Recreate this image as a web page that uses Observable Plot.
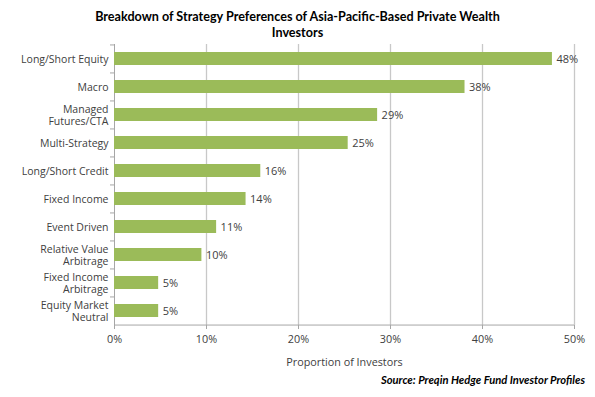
<!DOCTYPE html>
<html>
<head>
<meta charset="utf-8">
<script src="https://cdn.jsdelivr.net/npm/d3@7"></script>
<script src="https://cdn.jsdelivr.net/npm/@observablehq/plot@0.6"></script>
<style>
  body { margin: 0; background: #fff; }
  #wrap { position: relative; width: 595px; height: 397px; font-family: "Open Sans", sans-serif; }
  #title { position: absolute; left: 0; top: 9px; width: 595px; text-align: center; font-family: Lato, sans-serif; font-weight: bold; font-size: 12.6px; line-height: 16px; color: #000; }
  #source { position: absolute; right: 10px; top: 373px; font-family: Lato, sans-serif; font-weight: bold; font-style: italic; font-size: 11.2px; color: #000; }
  #chart { position: absolute; left: 0; top: 0; }
</style>
</head>
<body>
<div id="wrap">
  <div id="chart"></div>
  <div id="title">Breakdown of Strategy Preferences of Asia-Pacific-Based Private Wealth<br>Investors</div>
  <div id="source">Source: Preqin Hedge Fund Investor Profiles</div>
</div>
<script>
const categories = [
  "Long/Short Equity",
  "Macro",
  "Managed\nFutures/CTA",
  "Multi-Strategy",
  "Long/Short Credit",
  "Fixed Income",
  "Event Driven",
  "Relative Value\nArbitrage",
  "Fixed Income\nArbitrage",
  "Equity Market\nNeutral"
];
const values = [47.6, 38.1, 28.6, 25.4, 15.9, 14.3, 11.1, 9.5, 4.8, 4.8];
const valueLabels = ["48%", "38%", "29%", "25%", "16%", "14%", "11%", "10%", "5%", "5%"];
const xTicks = [0, 10, 20, 30, 40, 50];
const gridTicks = [10, 20, 30, 40, 50];

const data = categories.map((c, i) => ({category: c, value: values[i], label: valueLabels[i]}));
const step = (397 - 44 - 72) / categories.length;

const chart = Plot.plot({
  width: 595,
  height: 397,
  marginTop: 44,
  marginBottom: 72,
  marginLeft: 114,
  marginRight: 21,
  style: {fontFamily: "Open Sans, sans-serif", fontSize: "10.5px", color: "#404040", background: "transparent"},
  x: {domain: [0, 50], axis: null},
  y: {domain: categories, paddingInner: 0.55, paddingOuter: 0.275, axis: null},
  marks: [
    Plot.ruleX(gridTicks, {stroke: "#c8c8c8", strokeWidth: 1.3}),
    Plot.ruleX([0], {stroke: "#a6a6a6"}),
    Plot.ruleY([categories[categories.length - 1]], {dy: step / 2, stroke: "#a6a6a6"}),
    Plot.ruleY(categories, {y: d => d, dy: -step / 2, x1: 0, x2: 0, insetLeft: -4, stroke: "#a6a6a6"}),
    Plot.barX(data, {x: "value", y: "category", fill: "#9bbb59"}),
    Plot.text(data, {x: "value", y: "category", text: "label", textAnchor: "start", dx: 4, fill: "#404040", fontSize: 11}),
    Plot.axisY({tickSize: 0, tickPadding: 6, fontSize: 10.5, fill: "#404040", lineHeight: 1.2, label: null}),
    Plot.axisX({ticks: xTicks, tickFormat: d => d + "%", tickSize: 4, tickPadding: 6, stroke: "#a6a6a6", fill: "#404040", fontSize: 10.8,
      label: "Proportion of Investors", labelAnchor: "center", labelOffset: 40, labelArrow: "none"})
  ]
});
document.getElementById("chart").appendChild(chart);
</script>
</body>
</html>
